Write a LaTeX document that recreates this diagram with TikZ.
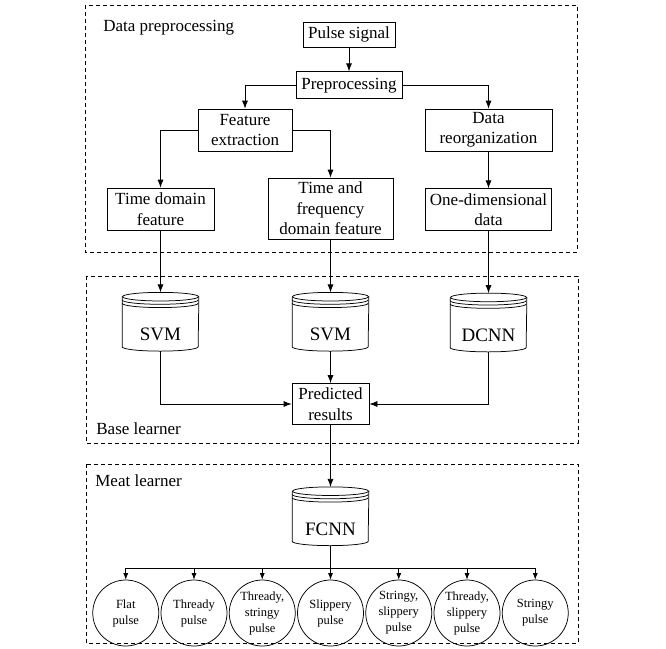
\documentclass[tikz,border=0pt]{standalone}
\usepackage{fontspec}
\setmainfont{Liberation Serif}
\usetikzlibrary{arrows.meta,positioning}

\begin{document}
\begin{tikzpicture}[x=1pt, y=1pt, node distance=24pt, >={Latex[length=8pt,width=6pt]}, line width=0.75pt]

	\tikzstyle{all} = [draw, align=center, inner sep=0pt, font=\fontsize{17}{20.5}\selectfont]
	\tikzstyle{block} = [rectangle, all]
	\tikzstyle{model} = [rectangle, inner sep=0pt, minimum width=76pt, text height=48pt, text depth=10pt, font=\fontsize{19}{22}\selectfont]
	\tikzstyle{pulsetype} = [circle, draw, minimum size=66pt, inner sep=0pt, align=center, font=\fontsize{12.5}{16}\selectfont]
	\tikzstyle{group} = [draw, dash pattern=on 4pt off 3pt, line width=0.6pt]
	\tikzstyle{grouplabel} = [anchor=base west, inner sep=0pt, font=\fontsize{17}{20.5}\selectfont]
	\tikzstyle{small} = [-{Latex[length=6.5pt,width=5pt]}]

	\useasboundingbox (0,0) rectangle (666,-648);

	% dashed groups
	\draw[group] (85,-5) rectangle (577,-252);
	\draw[group] (86,-276) rectangle (578,-443);
	\draw[group] (86,-464) rectangle (578,-643);

	\node[grouplabel] (prepname) at (103,-31.5) {Data preprocessing};
	\node[grouplabel] (basename) at (96,-434) {Base learner};
	\node[grouplabel] (metaname) at (95,-486) {Meat learner};

	% data preprocessing
	\node[block, minimum width=92pt, minimum height=25pt] (pulse) at (349,-34.5) {Pulse signal};
	\node[block, minimum width=106pt, minimum height=27pt, below=24pt of pulse] (prep) {Preprocessing};
	\node[block, minimum width=94pt, minimum height=42pt] (feat) at (245,-130) {Feature\\extraction};
	\node[block, minimum width=127pt, minimum height=42pt] (reorg) at (488.5,-130) {Data\\reorganization};
	\node[block, minimum width=107pt, minimum height=42pt] (timedom) at (160.5,-209) {Time domain\\feature};
	\node[block, minimum width=125pt, minimum height=61pt] (tf) at (330.5,-208.5) {Time and\\frequency\\domain feature};
	\node[block, minimum width=126pt, minimum height=42pt, below=37pt of reorg] (onedim) {One-dimensional\\data};

	% base learner
	\node[model, below=62pt of timedom] (svma) {SVM};
	\node[model, below=53pt of tf] (svmb) {SVM};
	\node[model, below=62pt of onedim] (dcnn) {DCNN};
	\node[block, minimum width=77pt, minimum height=41pt, below=32pt of svmb] (pred) {Predicted\\results};

	% meta learner
	\node[model, below=62pt of pred] (fcnn) {FCNN};
	\coordinate[below=23pt of fcnn] (bus);

	\node[pulsetype, below=34pt of fcnn] (slippery) {Slippery\\pulse};
	\node[pulsetype, left=1.5pt of slippery] (threadystringy) {Thready,\\stringy\\pulse};
	\node[pulsetype, left=1.5pt of threadystringy] (thready) {Thready\\pulse};
	\node[pulsetype, left=1.5pt of thready] (flat) {Flat\\pulse};
	\node[pulsetype, right=1.5pt of slippery] (stringyslippery) {Stringy,\\slippery\\pulse};
	\node[pulsetype, right=1.5pt of stringyslippery] (threadyslippery) {Thready,\\slippery\\pulse};
	\node[pulsetype, right=1.5pt of threadyslippery] (stringy) {Stringy\\pulse};

	% cylinders
	\foreach \m in {svma,svmb,dcnn,fcnn} {
		\draw ([yshift=-4.3pt]\m.north) ellipse (38pt and 4.3pt);
		\draw ([yshift=-7.6pt]\m.north west) arc (180:360:38pt and 4.3pt);
		\draw ([yshift=-10.9pt]\m.north west) arc (180:360:38pt and 4.3pt);
		\draw ([yshift=-4.3pt]\m.north west) -- ([yshift=4.3pt]\m.south west)
			arc (180:360:38pt and 4.3pt) -- ([yshift=-4.3pt]\m.north east);
	}

	\draw[->] (pulse) -- (prep);
	\draw[->] (prep) -| (feat);
	\draw[->] (prep) -| (reorg);
	\draw[->] (feat) -| (timedom);
	\draw[->] (feat) -| (tf);
	\draw[->] (reorg) -- (onedim);
	\draw[->] (timedom) -- (svma);
	\draw[->] (tf) -- (svmb);
	\draw[->] (onedim) -- (dcnn);
	\draw[->] (svma) |- (pred);
	\draw[->] (svmb) -- (pred);
	\draw[->] (dcnn) |- (pred);
	\draw[->] (pred) -- (fcnn);
	\foreach \p in {flat,thready,threadystringy,slippery,stringyslippery,threadyslippery,stringy}
		\draw[small] (fcnn) -- (bus) -| (\p);

\end{tikzpicture}
\end{document}
